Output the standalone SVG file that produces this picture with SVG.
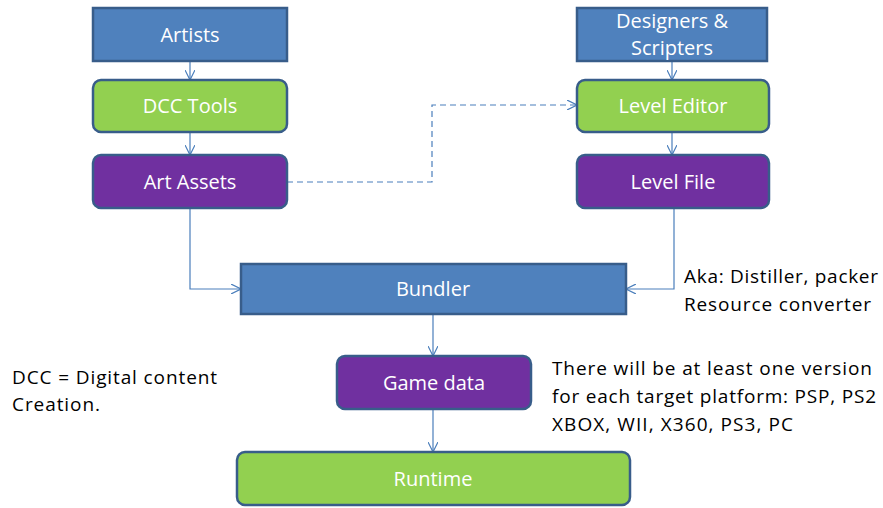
<svg xmlns="http://www.w3.org/2000/svg" width="883" height="508" viewBox="0 0 883 508">
<style>
.n{stroke:#385D8A;stroke-width:2.5}
.blue{fill:#4F81BD}
.green{fill:#92D050}
.purple{fill:#7030A0}
.t{fill:#fff;font-family:"Open Sans","Liberation Sans",sans-serif;font-size:20px;text-anchor:middle}
.a{fill:#000;font-family:"Open Sans","Liberation Sans",sans-serif;font-size:19px}
.c{fill:none;stroke:#4A7EBB;stroke-width:1.2}
</style>
<defs>
<marker id="ar" viewBox="0 0 10 10" refX="10" refY="5" markerWidth="10" markerHeight="10" markerUnits="userSpaceOnUse" orient="auto">
<path d="M0,0 L10,5 L0,10" fill="none" stroke="#4A7EBB" stroke-width="1.2"/>
</marker>
</defs>
<rect width="883" height="508" fill="#fff"/>
<g id="connectors">
<path class="c" d="M190,61 V80" marker-end="url(#ar)"/>
<path class="c" d="M190,132 V155" marker-end="url(#ar)"/>
<path class="c" d="M672,61 V80" marker-end="url(#ar)"/>
<path class="c" d="M672,132 V155" marker-end="url(#ar)"/>
<path class="c" d="M287,182 H432 V105 H577" stroke-dasharray="6,4" marker-end="url(#ar)"/>
<path class="c" d="M190,208 V289 H241" marker-end="url(#ar)"/>
<path class="c" d="M674,208 V289 H626" marker-end="url(#ar)"/>
<path class="c" d="M433,314 V356" marker-end="url(#ar)"/>
<path class="c" d="M433,409 V452" marker-end="url(#ar)"/>
</g>
<g id="artists"><rect class="n blue" x="93" y="8" width="194" height="53"/><text class="t" x="190" y="42">Artists</text></g>
<g id="dcc"><rect class="n green" x="93" y="80" width="194" height="52" rx="8"/><text class="t" x="190" y="113">DCC Tools</text></g>
<g id="artassets"><rect class="n purple" x="93" y="155" width="194" height="53" rx="8"/><text class="t" x="190" y="189">Art Assets</text></g>
<g id="designers"><rect class="n blue" x="577" y="8" width="190" height="53"/><text class="t" x="672" y="28">Designers &amp;</text><text class="t" x="672" y="55">Scripters</text></g>
<g id="leveleditor"><rect class="n green" x="577" y="80" width="192" height="52" rx="8"/><text class="t" x="673" y="113">Level Editor</text></g>
<g id="levelfile"><rect class="n purple" x="577" y="155" width="192" height="53" rx="8"/><text class="t" x="673" y="189">Level File</text></g>
<g id="bundler"><rect class="n blue" x="241" y="264" width="385" height="50"/><text class="t" x="433" y="296">Bundler</text></g>
<g id="gamedata"><rect class="n purple" x="337" y="356" width="194" height="53" rx="8"/><text class="t" x="434" y="390">Game data</text></g>
<g id="runtime"><rect class="n green" x="237" y="452" width="393" height="53" rx="8"/><text class="t" x="433" y="486">Runtime</text></g>
<g id="notes">
<text class="a" x="12" y="384" textLength="205" lengthAdjust="spacing">DCC = Digital content</text>
<text class="a" x="12" y="411" textLength="88" lengthAdjust="spacing">Creation.</text>
<text class="a" x="552" y="375" textLength="320" lengthAdjust="spacing">There will be at least one version</text>
<text class="a" x="552" y="403" textLength="324" lengthAdjust="spacing">for each target platform: PSP, PS2</text>
<text class="a" x="552" y="431" textLength="241" lengthAdjust="spacing">XBOX, WII, X360, PS3, PC</text>
<text class="a" x="684" y="283" textLength="194" lengthAdjust="spacing">Aka: Distiller, packer</text>
<text class="a" x="684" y="311" textLength="187" lengthAdjust="spacing">Resource converter</text>
</g>
</svg>
